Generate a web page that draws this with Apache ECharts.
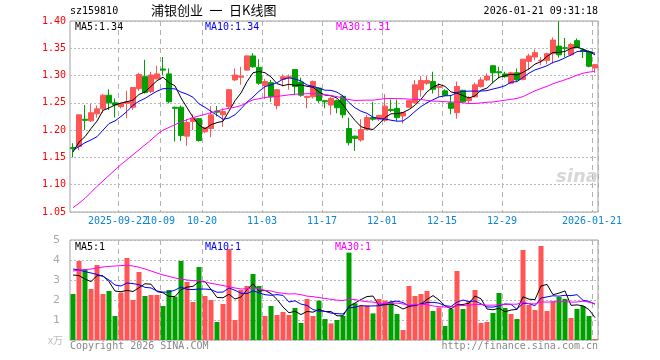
<!DOCTYPE html>
<html><head><meta charset="utf-8">
<script src="https://cdn.jsdelivr.net/npm/echarts@6/dist/echarts.min.js"></script>
<style>html,body{margin:0;padding:0;background:#fff}#c{width:660px;height:360px}</style>
</head><body><div id="c"></div>
<script>
// ---- data ----
const dates = [
 '2025-09-10','2025-09-11','2025-09-12','2025-09-15','2025-09-16','2025-09-17','2025-09-18','2025-09-19','2025-09-22','2025-09-23',
 '2025-09-24','2025-09-25','2025-09-26','2025-09-29','2025-09-30','2025-10-09','2025-10-10','2025-10-13','2025-10-14','2025-10-15',
 '2025-10-16','2025-10-17','2025-10-20','2025-10-21','2025-10-22','2025-10-23','2025-10-24','2025-10-27','2025-10-28','2025-10-29',
 '2025-10-30','2025-10-31','2025-11-03','2025-11-04','2025-11-05','2025-11-06','2025-11-07','2025-11-10','2025-11-11','2025-11-12',
 '2025-11-13','2025-11-14','2025-11-17','2025-11-18','2025-11-19','2025-11-20','2025-11-21','2025-11-24','2025-11-25','2025-11-26',
 '2025-11-27','2025-11-28','2025-12-01','2025-12-02','2025-12-03','2025-12-04','2025-12-05','2025-12-08','2025-12-09','2025-12-10',
 '2025-12-11','2025-12-12','2025-12-15','2025-12-16','2025-12-17','2025-12-18','2025-12-19','2025-12-22','2025-12-23','2025-12-24',
 '2025-12-25','2025-12-26','2025-12-29','2025-12-30','2025-12-31','2026-01-05','2026-01-06','2026-01-07','2026-01-08','2026-01-09',
 '2026-01-12','2026-01-13','2026-01-14','2026-01-15','2026-01-16','2026-01-19','2026-01-20','2026-01-21'];
const opens = [
 1.168,1.170,1.220,1.217,1.230,1.239,1.264,1.250,1.243,1.249,
 1.242,1.276,1.298,1.271,1.294,1.312,1.303,1.242,1.242,1.189,
 1.216,1.221,1.197,1.203,1.235,1.228,1.243,1.292,1.297,1.310,
 1.336,1.315,1.282,1.287,1.245,1.293,1.296,1.311,1.288,1.260,
 1.261,1.277,1.254,1.246,1.254,1.262,1.203,1.189,1.182,1.201,
 1.223,1.220,1.218,1.238,1.240,1.226,1.242,1.250,1.274,1.286,
 1.289,1.278,1.272,1.250,1.232,1.273,1.254,1.261,1.280,1.292,
 1.318,1.307,1.303,1.286,1.305,1.293,1.326,1.334,1.327,1.328,
 1.340,1.354,1.351,1.338,1.364,1.347,1.344,1.314];
const closes = [
 1.166,1.228,1.218,1.232,1.239,1.264,1.250,1.246,1.249,1.252,
 1.278,1.302,1.269,1.301,1.303,1.310,1.252,1.240,1.190,1.214,
 1.222,1.181,1.205,1.228,1.233,1.234,1.274,1.301,1.299,1.336,
 1.316,1.286,1.289,1.261,1.274,1.298,1.298,1.280,1.264,1.262,
 1.289,1.254,1.252,1.258,1.241,1.228,1.177,1.185,1.201,1.223,
 1.220,1.227,1.244,1.236,1.223,1.232,1.254,1.283,1.291,1.291,
 1.275,1.280,1.264,1.240,1.280,1.252,1.259,1.283,1.292,1.299,
 1.305,1.305,1.298,1.305,1.292,1.330,1.336,1.342,1.328,1.340,
 1.365,1.338,1.350,1.357,1.352,1.344,1.317,1.320];
const highs = [
 1.176,1.229,1.246,1.248,1.245,1.266,1.275,1.258,1.250,1.272,
 1.279,1.305,1.329,1.307,1.318,1.334,1.313,1.243,1.245,1.220,
 1.229,1.222,1.206,1.244,1.244,1.240,1.275,1.313,1.316,1.337,
 1.341,1.330,1.294,1.292,1.275,1.302,1.302,1.312,1.296,1.263,
 1.291,1.278,1.255,1.261,1.256,1.264,1.223,1.190,1.220,1.228,
 1.252,1.228,1.266,1.256,1.256,1.233,1.255,1.292,1.299,1.299,
 1.307,1.286,1.275,1.264,1.289,1.274,1.262,1.287,1.297,1.304,
 1.319,1.316,1.307,1.307,1.313,1.331,1.340,1.348,1.334,1.342,
 1.370,1.400,1.369,1.360,1.368,1.350,1.346,1.321];
const lows = [
 1.150,1.163,1.200,1.215,1.223,1.232,1.237,1.223,1.240,1.222,
 1.237,1.272,1.267,1.268,1.293,1.301,1.249,1.179,1.180,1.171,
 1.200,1.179,1.195,1.187,1.225,1.206,1.240,1.290,1.283,1.309,
 1.314,1.283,1.257,1.252,1.238,1.280,1.274,1.264,1.261,1.240,
 1.258,1.250,1.240,1.228,1.231,1.222,1.172,1.162,1.179,1.200,
 1.217,1.217,1.215,1.233,1.217,1.212,1.241,1.249,1.261,1.283,
 1.267,1.261,1.262,1.229,1.221,1.250,1.250,1.260,1.278,1.290,
 1.286,1.295,1.296,1.284,1.289,1.291,1.310,1.328,1.319,1.321,
 1.322,1.333,1.334,1.336,1.350,1.332,1.315,1.305];
// volume (万)
const volumes = [
 2.30,3.95,3.53,2.55,3.75,2.30,2.45,1.20,2.37,4.10,
 2.00,3.40,2.20,2.25,2.25,1.70,2.50,2.17,3.95,2.90,
 1.90,3.65,2.20,2.00,0.90,1.80,4.55,1.00,2.50,2.70,
 3.30,2.70,1.20,1.70,1.25,1.40,1.25,1.60,0.85,2.05,
 1.20,1.97,1.05,0.83,1.00,1.20,4.37,1.83,1.73,1.73,
 1.33,2.05,1.97,1.92,1.30,0.50,2.70,2.20,2.30,2.45,
 1.45,1.63,0.70,1.55,3.45,1.55,1.95,2.50,0.85,0.90,
 1.35,2.35,1.60,1.30,1.05,4.50,1.75,1.50,4.70,1.45,
 1.92,2.15,2.05,1.10,1.55,1.70,1.20,0.05];
// moving-average values before enough bars are on screen
const ma5Head  = [1.160,1.178,1.188,1.203];
const ma10Head = [1.163,1.170,1.177,1.182,1.188,1.200,1.212,1.217,1.225];
const ma30Head = [1.058,1.066,1.075,1.086,1.097,1.107,1.117,1.127,1.137,1.146,
                  1.155,1.164,1.173,1.182,1.192,1.200,1.205,1.210,1.215,1.219,
                  1.223,1.226,1.229,1.232,1.235,1.238,1.240,1.242,1.245];
const vma5Head  = [3.25,3.22,3.05,2.92];
const vma10Head = [3.55,3.50,3.42,3.35,3.28,3.18,3.00,2.75,2.70];
const vma30Head = [3.45,3.50,3.52,3.55,3.60,3.65,3.68,3.70,3.72,3.74,
                   3.70,3.64,3.55,3.45,3.35,3.25,3.18,3.10,3.05,3.00,
                   2.97,2.95,2.90,2.83,2.78,2.72,2.67,2.60,2.55];
const tickDates  = ['2025-09-22','2025-10-09','2025-10-20','2025-11-03','2025-11-17','2025-12-01','2025-12-15','2025-12-29','2026-01-21'];
const tickLabels = ['2025-09-22','10-09','10-20','11-03','11-17','12-01','12-15','12-29','2026-01-21'];
const priceTicks = [1.05,1.10,1.15,1.20,1.25,1.30,1.35,1.40];
const volTicks = [0,1,2,3,4,5];
const code = 'sz159810';
const titleText = '浦银创业\u2002一\u2002日K线图';
const timeText = '2026-01-21 09:31:18';

// ---- build ----
function ma(vals, n, head){
  return vals.map((v,i)=>{
    if(i < n-1) return head[i];
    let s=0; for(let j=i-n+1;j<=i;j++) s+=vals[j];
    return +(s/n).toFixed(4);
  });
}
const ma5 = ma(closes,5,ma5Head), ma10 = ma(closes,10,ma10Head), ma30 = ma(closes,30,ma30Head);
const vma5 = ma(volumes,5,vma5Head), vma10 = ma(volumes,10,vma10Head), vma30 = ma(volumes,30,vma30Head);
const kdata = dates.map((d,i)=>[opens[i],closes[i],lows[i],highs[i]]);
const RED='#ff5555', GREEN='#00a000';
const vdata = volumes.map((v,i)=>({value:v,itemStyle:{color: closes[i]>=opens[i]?RED:GREEN}}));
const tickIdx = tickDates.map(d=>dates.indexOf(d));
const firstTick = tickIdx[0];
const MONO = 'DejaVu Sans Mono';
const last = a => a[a.length-1];

const gridCommon = {left:70, width:528, show:true, borderColor:'#a0a0a0', borderWidth:1, backgroundColor:'#fff'};
const vSplit = {show:true, interval:(i)=>tickIdx.includes(i), lineStyle:{color:'#b0b0b0', type:[5,4], width:1}};
const hSplit = {show:true, lineStyle:{color:'#b8b8b8', type:[2,2], width:1}};
const xLabelBase = {formatter:(v)=>tickLabels[tickDates.indexOf(v)], hideOverlap:false,
  color:'#0a84d6', fontFamily:MONO, fontSize:10, margin:4, padding:[0,6,0,0]};

const chart = echarts.init(document.getElementById('c'), null, {renderer:'canvas'});
chart.setOption({
  animation:false,
  backgroundColor:'#fff',
  grid:[Object.assign({top:21, height:191}, gridCommon), Object.assign({top:240, height:100}, gridCommon)],
  xAxis:[
    {type:'category', gridIndex:0, data:dates, boundaryGap:true,
     axisLine:{show:false}, axisTick:{show:false}, splitLine:vSplit,
     axisLabel:Object.assign({interval:(i)=>tickIdx.includes(i) && i!==firstTick}, xLabelBase)},
    {type:'category', gridIndex:1, data:dates, boundaryGap:true,
     axisLine:{show:false}, axisTick:{show:false}, splitLine:vSplit, axisLabel:{show:false}},
    {type:'category', gridIndex:0, data:dates, boundaryGap:true, position:'bottom',
     axisLine:{show:false}, axisTick:{show:false}, splitLine:{show:false},
     axisLabel:Object.assign({interval:(i)=>i===firstTick}, xLabelBase)}
  ],
  yAxis:[
    {type:'value', gridIndex:0, min:priceTicks[0], max:last(priceTicks), interval:0.05,
     axisLine:{show:false}, axisTick:{show:false}, splitLine:hSplit,
     axisLabel:{formatter:(v)=>v.toFixed(2), color:'#ff0000', fontFamily:MONO, fontSize:10, margin:4}},
    {type:'value', gridIndex:1, min:volTicks[0], max:last(volTicks), interval:1,
     axisLine:{show:false}, axisTick:{show:false}, splitLine:hSplit,
     axisLabel:{formatter:(v)=>v===0?'':String(v), color:'#aaaaaa', fontFamily:'DejaVu Sans', fontSize:11, margin:10}}
  ],
  series:[
    {type:'candlestick', xAxisIndex:0, yAxisIndex:0, data:kdata, barWidth:5,
     itemStyle:{color:RED, color0:GREEN, borderColor:RED, borderColor0:GREEN, borderWidth:1}},
    {type:'line', xAxisIndex:0, yAxisIndex:0, data:ma5, showSymbol:false, lineStyle:{color:'#000', width:1}, z:5},
    {type:'line', xAxisIndex:0, yAxisIndex:0, data:ma10, showSymbol:false, lineStyle:{color:'#0000ff', width:1}, z:5},
    {type:'line', xAxisIndex:0, yAxisIndex:0, data:ma30, showSymbol:false, lineStyle:{color:'#ff00ff', width:1}, z:5},
    {type:'bar', xAxisIndex:1, yAxisIndex:1, data:vdata, barWidth:5},
    {type:'line', xAxisIndex:1, yAxisIndex:1, data:vma5, showSymbol:false, lineStyle:{color:'#000', width:1}, z:5},
    {type:'line', xAxisIndex:1, yAxisIndex:1, data:vma10, showSymbol:false, lineStyle:{color:'#0000ff', width:1}, z:5},
    {type:'line', xAxisIndex:1, yAxisIndex:1, data:vma30, showSymbol:false, lineStyle:{color:'#ff00ff', width:1}, z:5}
  ],
  graphic:[
    {type:'text', left:70, top:6, style:{text:code, font:'10px '+MONO, fill:'#000'}},
    {type:'text', left:151, top:4, style:{text:titleText, font:'13px "Noto Sans CJK SC"', fill:'#000'}},
    {type:'text', right:62, top:6, style:{text:timeText, font:'10px '+MONO, fill:'#000'}},
    {type:'text', left:75, top:22, z:10, style:{text:'MA5:'+last(ma5).toFixed(2), font:'10px '+MONO, fill:'#000'}},
    {type:'text', left:205, top:22, z:10, style:{text:'MA10:'+last(ma10).toFixed(2), font:'10px '+MONO, fill:'#0000ff'}},
    {type:'text', left:336, top:22, z:10, style:{text:'MA30:'+last(ma30).toFixed(2), font:'10px '+MONO, fill:'#ff00ff'}},
    {type:'text', left:75, top:242, z:10, style:{text:'MA5:'+Math.floor(last(vma5)), font:'10px '+MONO, fill:'#000'}},
    {type:'text', left:205, top:242, z:10, style:{text:'MA10:'+Math.floor(last(vma10)), font:'10px '+MONO, fill:'#0000ff'}},
    {type:'text', left:335, top:242, z:10, style:{text:'MA30:'+Math.floor(last(vma30)), font:'10px '+MONO, fill:'#ff00ff'}},
    {type:'text', left:48, top:335, style:{text:'x万', font:'10px "Noto Sans CJK SC"', fill:'#bbbbbb'}},
    {type:'text', left:70, top:341, style:{text:'Copyright 2026 SINA.COM', font:'10px '+MONO, fill:'#888'}},
    {type:'text', right:62, top:341, style:{text:'http://finance.sina.com.cn', font:'10px '+MONO, fill:'#888'}},
    {type:'text', left:556, top:168, z:1, style:{text:'sina', font:'italic bold 18px "DejaVu Sans"', fill:'rgba(205,205,205,0.8)'}}
  ]
});
</script></body></html>
